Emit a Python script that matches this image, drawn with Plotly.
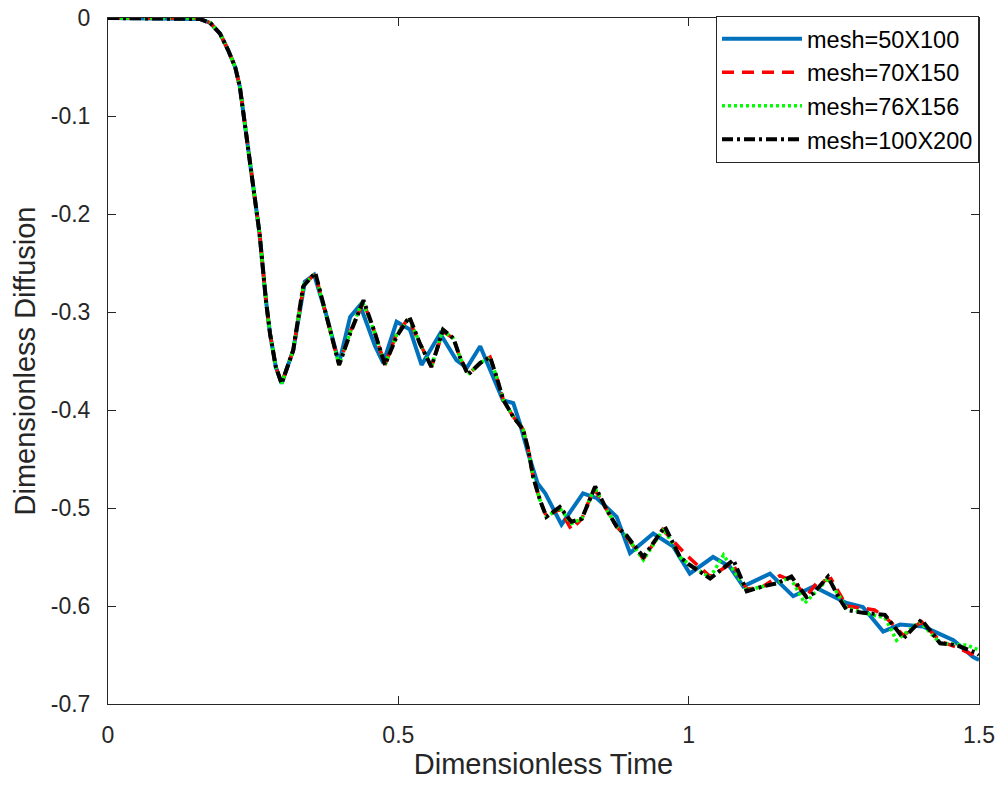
import plotly.graph_objects as go

# ---- data ----
t_100x200 = [0.0, 0.05, 0.10, 0.15, 0.158, 0.176, 0.193, 0.207, 0.219, 0.227, 0.234, 0.246, 0.261, 0.272,
             0.279, 0.289, 0.299, 0.319, 0.336, 0.357, 0.376, 0.398, 0.417, 0.440, 0.460, 0.477, 0.497,
             0.519, 0.537, 0.557, 0.577, 0.595, 0.606, 0.620, 0.641, 0.658, 0.669, 0.681, 0.698, 0.715,
             0.724, 0.732, 0.744, 0.755, 0.778, 0.798, 0.816, 0.839, 0.859, 0.876, 0.893, 0.922, 0.959,
             0.985, 0.999, 1.037, 1.077, 1.100, 1.128, 1.151, 1.177, 1.203, 1.215, 1.240, 1.258, 1.272,
             1.301, 1.338, 1.370, 1.401, 1.433, 1.461, 1.496, 1.500]
d_100x200 = [0.0, 0.0, 0.0, 0.0, -0.001, -0.005, -0.016, -0.033, -0.050, -0.070, -0.100, -0.152, -0.220, -0.288,
             -0.322, -0.356, -0.373, -0.339, -0.274, -0.260, -0.305, -0.354, -0.322, -0.288, -0.322, -0.354, -0.325,
             -0.305, -0.332, -0.356, -0.318, -0.327, -0.346, -0.364, -0.352, -0.346, -0.366, -0.390, -0.407, -0.420,
             -0.441, -0.468, -0.492, -0.509, -0.499, -0.514, -0.511, -0.478, -0.502, -0.519, -0.528, -0.550, -0.519,
             -0.550, -0.557, -0.572, -0.553, -0.585, -0.580, -0.577, -0.570, -0.591, -0.587, -0.570, -0.591, -0.604,
             -0.607, -0.609, -0.633, -0.614, -0.638, -0.640, -0.648, -0.650]

t_50x100 = [0.0, 0.05, 0.10, 0.15, 0.158, 0.176, 0.193, 0.207, 0.219, 0.227, 0.234, 0.246, 0.261, 0.272,
            0.279, 0.289, 0.299, 0.319, 0.339, 0.355, 0.376, 0.398, 0.417, 0.434, 0.460, 0.474, 0.497,
            0.520, 0.540, 0.572, 0.600, 0.618, 0.641, 0.658, 0.680, 0.698, 0.709, 0.724, 0.740, 0.753,
            0.781, 0.818, 0.842, 0.876, 0.899, 0.939, 0.973, 1.002, 1.042, 1.071, 1.094, 1.140, 1.180,
            1.215, 1.272, 1.300, 1.335, 1.364, 1.404, 1.456, 1.490, 1.500]
d_50x100 = [0.0, 0.0, 0.0, 0.0, -0.001, -0.005, -0.016, -0.033, -0.050, -0.070, -0.100, -0.152, -0.220, -0.288,
            -0.322, -0.356, -0.373, -0.339, -0.269, -0.262, -0.303, -0.352, -0.305, -0.293, -0.335, -0.352, -0.310,
            -0.318, -0.354, -0.322, -0.349, -0.357, -0.335, -0.359, -0.390, -0.393, -0.413, -0.445, -0.475, -0.485,
            -0.517, -0.485, -0.490, -0.509, -0.546, -0.526, -0.539, -0.567, -0.550, -0.560, -0.580, -0.567, -0.590,
            -0.580, -0.597, -0.601, -0.626, -0.619, -0.621, -0.635, -0.652, -0.655]

t_70x150 = [0.0, 0.05, 0.10, 0.15, 0.158, 0.176, 0.193, 0.207, 0.219, 0.227, 0.234, 0.246, 0.261, 0.272,
            0.279, 0.289, 0.299, 0.319, 0.337, 0.357, 0.376, 0.398, 0.417, 0.440, 0.460, 0.477, 0.497,
            0.517, 0.537, 0.557, 0.577, 0.595, 0.606, 0.620, 0.641, 0.658, 0.669, 0.681, 0.698, 0.715,
            0.724, 0.732, 0.744, 0.755, 0.778, 0.798, 0.816, 0.837, 0.859, 0.876, 0.893, 0.922, 0.955,
            0.996, 1.037, 1.075, 1.100, 1.128, 1.157, 1.180, 1.203, 1.220, 1.245, 1.272, 1.320,
            1.340, 1.370, 1.401, 1.433, 1.461, 1.490, 1.500]
d_70x150 = [0.0, 0.0, 0.0, 0.0, -0.001, -0.005, -0.016, -0.033, -0.050, -0.070, -0.100, -0.152, -0.220, -0.288,
            -0.322, -0.356, -0.373, -0.339, -0.272, -0.261, -0.305, -0.354, -0.320, -0.290, -0.322, -0.354, -0.322,
            -0.307, -0.332, -0.356, -0.320, -0.327, -0.346, -0.364, -0.352, -0.346, -0.366, -0.390, -0.407, -0.420,
            -0.441, -0.468, -0.492, -0.509, -0.501, -0.522, -0.511, -0.480, -0.502, -0.519, -0.530, -0.552, -0.522,
            -0.548, -0.570, -0.556, -0.583, -0.580, -0.569, -0.575, -0.590, -0.577, -0.572, -0.600, -0.604,
            -0.612, -0.630, -0.616, -0.636, -0.642, -0.650, -0.655]

t_76x156 = [0.0, 0.05, 0.10, 0.15, 0.158, 0.176, 0.193, 0.207, 0.219, 0.227, 0.234, 0.246, 0.261, 0.272,
            0.279, 0.289, 0.299, 0.319, 0.337, 0.357, 0.376, 0.398, 0.417, 0.438, 0.460, 0.477, 0.497,
            0.518, 0.537, 0.557, 0.576, 0.595, 0.606, 0.620, 0.641, 0.658, 0.669, 0.681, 0.698, 0.715,
            0.724, 0.732, 0.744, 0.755, 0.778, 0.798, 0.816, 0.838, 0.859, 0.876, 0.893, 0.922, 0.957,
            0.985, 1.000, 1.037, 1.060, 1.100, 1.128, 1.151, 1.175, 1.200, 1.220, 1.240, 1.272,
            1.301, 1.338, 1.358, 1.398, 1.433, 1.480, 1.500]
d_76x156 = [0.0, 0.0, 0.0, 0.0, -0.001, -0.005, -0.016, -0.033, -0.050, -0.070, -0.100, -0.152, -0.220, -0.288,
            -0.322, -0.356, -0.373, -0.339, -0.272, -0.261, -0.305, -0.354, -0.321, -0.289, -0.322, -0.354, -0.323,
            -0.306, -0.332, -0.356, -0.319, -0.327, -0.346, -0.364, -0.352, -0.346, -0.366, -0.390, -0.407, -0.420,
            -0.441, -0.468, -0.492, -0.509, -0.500, -0.516, -0.511, -0.479, -0.502, -0.519, -0.529, -0.553, -0.521,
            -0.550, -0.557, -0.571, -0.548, -0.584, -0.580, -0.577, -0.571, -0.597, -0.585, -0.572, -0.602,
            -0.607, -0.612, -0.635, -0.616, -0.638, -0.640, -0.645]

x_tickvals = [0, 0.5, 1, 1.5]
x_ticktext = ["0", "0.5", "1", "1.5"]
y_tickvals = [0, -0.1, -0.2, -0.3, -0.4, -0.5, -0.6, -0.7]
y_ticktext = ["0", "-0.1", "-0.2", "-0.3", "-0.4", "-0.5", "-0.6", "-0.7"]

AX = "#262626"
FONT = "Liberation Sans, Arial, sans-serif"

fig = go.Figure()
fig.add_trace(go.Scatter(x=t_50x100, y=d_50x100, mode="lines", name="mesh=50X100",
                         line=dict(color="#0072BD", width=4)))
fig.add_trace(go.Scatter(x=t_70x150, y=d_70x150, mode="lines", name="mesh=70X150",
                         line=dict(color="#FF0000", width=3.5, dash="12px,8px")))
fig.add_trace(go.Scatter(x=t_76x156, y=d_76x156, mode="lines", name="mesh=76X156",
                         line=dict(color="#00FF00", width=3.5, dash="3px,3px")))
fig.add_trace(go.Scatter(x=t_100x200, y=d_100x200, mode="lines", name="mesh=100X200",
                         line=dict(color="#000000", width=4, dash="11px,4px,3px,4px")))

axis_common = dict(showline=True, linecolor=AX, linewidth=1, mirror="ticks", ticks="inside",
                   ticklen=8, tickcolor=AX, tickwidth=1, showgrid=False, zeroline=False,
                   tickfont=dict(family=FONT, size=23, color=AX))

fig.update_xaxes(range=[0, 1.5], tickvals=x_tickvals, ticktext=x_ticktext, ticklabelstandoff=10,
                 title=dict(text="Dimensionless Time", font=dict(family=FONT, size=29, color=AX), standoff=4),
                 **axis_common)
fig.update_yaxes(range=[-0.7, 0], tickvals=y_tickvals, ticktext=y_ticktext, ticklabelstandoff=12,
                 title=dict(text="Dimensionless Diffusion", font=dict(family=FONT, size=29, color=AX), standoff=6),
                 **axis_common)

fig.update_layout(
    width=1002, height=789,
    margin=dict(l=108, r=23, t=18, b=85, autoexpand=False),
    plot_bgcolor="white", paper_bgcolor="white",
    font=dict(family=FONT, color=AX),
    legend=dict(x=1, y=1.003, xanchor="right", yanchor="top", bgcolor="white",
                bordercolor=AX, borderwidth=1, itemwidth=80,
                font=dict(family=FONT, size=23.5, color="#000000"), tracegroupgap=0),
)

fig.write_html("out.html")
